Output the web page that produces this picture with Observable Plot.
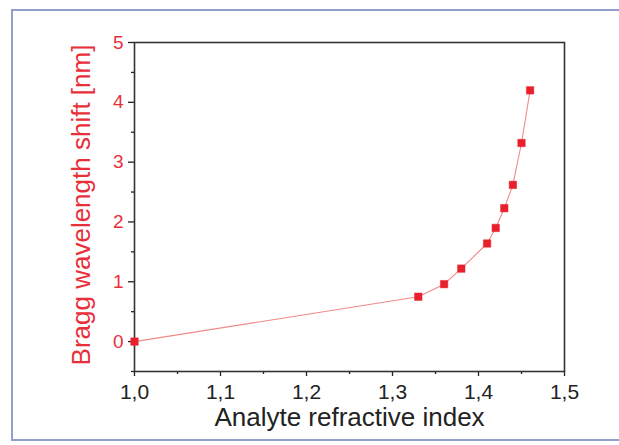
<!DOCTYPE html>
<html>
<head>
<meta charset="utf-8">
<script src="https://cdn.jsdelivr.net/npm/d3@7"></script>
<script src="https://cdn.jsdelivr.net/npm/@observablehq/plot@0.6"></script>
<style>
  html, body { margin: 0; padding: 0; background: #fff; overflow: hidden; }
  #wrap { position: relative; width: 619px; height: 445px; }
  #border { position: absolute; left: 11px; top: 9px; width: 700px; height: 432px; border: 2px solid #8fa0cc; box-sizing: border-box; }
  #chart { position: absolute; left: 0; top: 0; }
</style>
</head>
<body>
<div id="wrap"><div id="border"></div><div id="chart"></div></div>
<script>
const refractiveIndex = [1.00, 1.33, 1.36, 1.38, 1.41, 1.42, 1.43, 1.44, 1.45, 1.46];
const braggShift = [0.00, 0.75, 0.96, 1.22, 1.64, 1.90, 2.23, 2.62, 3.32, 4.20];
const xTicks = [1.0, 1.1, 1.2, 1.3, 1.4, 1.5];
const xMinorTicks = [1.05, 1.15, 1.25, 1.35, 1.45];
const yTicks = [0, 1, 2, 3, 4, 5];
const yMinorTicks = [-0.5, 0.5, 1.5, 2.5, 3.5, 4.5];
const xTitle = "Analyte refractive index";
const yTitle = "Bragg wavelength shift [nm]";

const data = refractiveIndex.map((x, i) => ({x, y: braggShift[i]}));
const red = "#e8303a";
const font = "Liberation Sans, Arial, sans-serif";

const chart = Plot.plot({
  width: 619,
  height: 445,
  marginLeft: 134,
  marginRight: 55,
  marginTop: 42,
  marginBottom: 74,
  style: {fontFamily: font, background: "transparent", overflow: "visible"},
  x: {domain: [1.0, 1.5]},
  y: {domain: [-0.5, 5]},
  marks: [
    Plot.axisX({ticks: xTicks, tickSize: 5, tickPadding: 8, fontSize: 21, color: "#222", tickFormat: d => d.toFixed(1).replace(".", ","), label: null, strokeWidth: 1.3}),
    Plot.axisX({ticks: xMinorTicks, tickSize: 3, tickFormat: () => "", label: null, color: "#222", strokeWidth: 1.3}),
    Plot.axisY({ticks: yTicks, tickSize: 6, tickPadding: 5, fontSize: 19, color: red, tickFormat: d => String(d), label: null, stroke: "#222", strokeWidth: 1.3}),
    Plot.axisY({ticks: yMinorTicks, tickSize: 3, tickFormat: () => "", label: null, stroke: "#222", strokeWidth: 1.3}),
    Plot.frame({stroke: "#333", strokeWidth: 1.6}),
    Plot.line(data, {x: "x", y: "y", stroke: "#ef8a8a", strokeWidth: 1.1}),
    Plot.dot(data, {x: "x", y: "y", symbol: "square", r: 4.2, fill: "#e8202c", stroke: "#e8202c", strokeWidth: 0.5}),
    Plot.text([xTitle], {frameAnchor: "bottom", dy: 46, fontSize: 26, fill: "#222", textAnchor: "middle", lineAnchor: "middle", text: d => d}),
    Plot.text([yTitle], {frameAnchor: "left", dx: -53, dy: -2, rotate: -90, fontSize: 26, fill: red, textAnchor: "middle", lineAnchor: "middle", text: d => d})
  ]
});
document.getElementById("chart").appendChild(chart);
</script>
</body>
</html>
